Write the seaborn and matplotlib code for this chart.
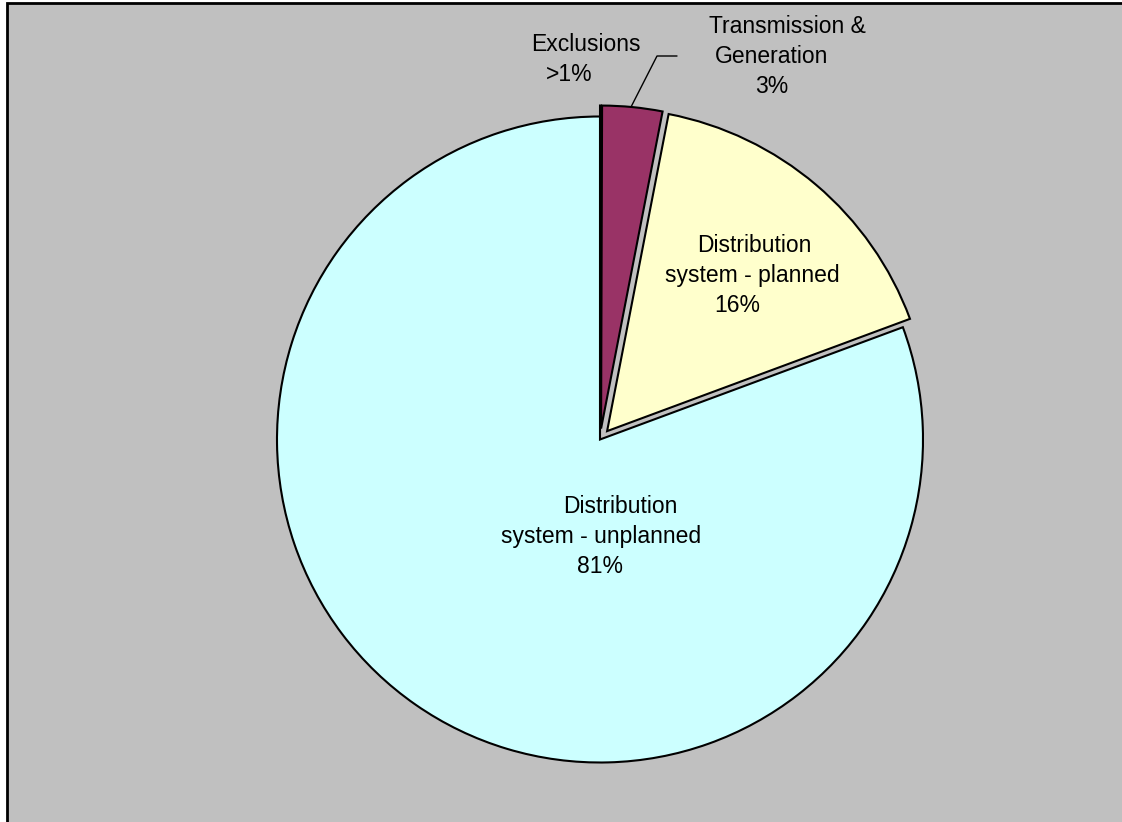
import matplotlib
matplotlib.use("Agg")
import matplotlib.pyplot as plt
from matplotlib.patches import Rectangle
import seaborn as sns

# Data (percent of total)
categories = ["Exclusions", "Transmission & Generation",
              "Distribution system - planned", "Distribution system - unplanned"]
values = [0.05, 3.0, 16.3, 80.65]
pct_labels = [">1%", "3%", "16%", "81%"]
colors = ["#9999FF", "#993366", "#FFFFCC", "#CCFFFF"]

sns.set_style("white")
plt.rcParams["font.family"] = ["Liberation Sans", "DejaVu Sans"]

W, H = 1122, 822
fig = plt.figure(figsize=(W / 100, H / 100), dpi=100)
ax = fig.add_axes([0, 0, 1, 1])


def py(y):
    # pixel row -> data y
    return H - y


# gray plot area with black frame (left/top visible)
ax.add_patch(Rectangle((7.5, -10), W + 20, H - 3.5 + 10,
                       facecolor="#C0C0C0", edgecolor="black", lw=2, zorder=0))

cx, cy, r = 600, py(439.5), 323
# explode is in data units here, so scale by radius
explode = [f * r for f in [0.034, 0.034, 0.034, 0.0]]
wedges, _ = ax.pie(values, colors=colors, startangle=90, counterclock=False,
                   explode=explode, radius=r, center=(cx, cy),
                   wedgeprops=dict(edgecolor="black", linewidth=1.5),
                   frame=True)

# label lines: (text, x-center px, baseline px)
label_lines = [
    [("Exclusions", 586, 51), (pct_labels[0], 569, 81)],
    [("Transmission &", 787, 33), ("Generation", 772, 63), (pct_labels[1], 772, 93)],
    [("Distribution", 754, 252), ("system - planned", 752, 282), (pct_labels[2], 737, 312)],
    [("Distribution", 620, 513), ("system - unplanned", 601, 543), (pct_labels[3], 600, 573)],
]
for lines in label_lines:
    for txt, x, y in lines:
        ax.text(x, py(y), txt, ha="center", va="baseline", fontsize=16.5, color="black")

# leader line for Transmission & Generation
ax.plot([631, 657, 677], [py(107), py(56), py(56)], color="black", lw=1)

ax.set_xlim(0, W)
ax.set_ylim(0, H)
ax.set_aspect("equal")
ax.set_axis_off()
fig.patch.set_facecolor("white")

plt.savefig("out.png", dpi=100)
